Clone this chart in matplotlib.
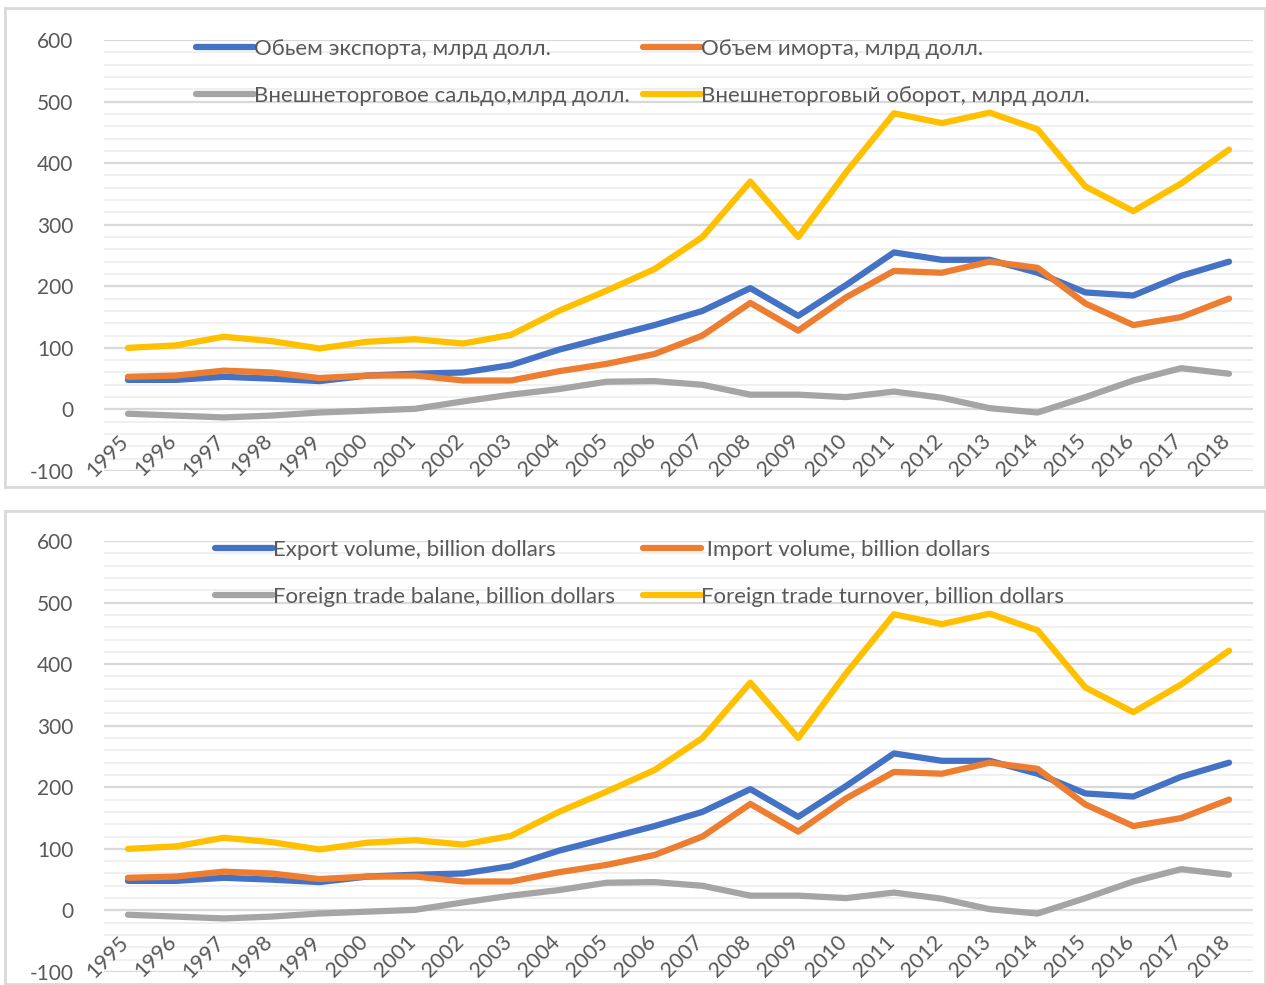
import matplotlib
matplotlib.use('Agg')
import matplotlib.pyplot as plt
from matplotlib.patches import Rectangle

years = list(range(1995, 2019))

export_vol = [48, 48, 53, 50, 46, 55, 58, 60, 72, 97, 117, 137, 160, 197, 152, 202, 255, 243, 243, 222, 190, 185, 217, 240]
import_vol = [53, 55, 63, 60, 51, 55, 55, 47, 47, 62, 74, 90, 120, 173, 128, 182, 225, 222, 240, 230, 172, 137, 150, 180]
balance = [-7, -10, -13, -10, -5, -2, 1, 13, 24, 33, 45, 46, 40, 24, 24, 20, 29, 19, 2, -5, 20, 47, 67, 58]
turnover = [100, 104, 118, 111, 99, 110, 114, 107, 121, 160, 193, 228, 280, 370, 280, 385, 481, 465, 482, 455, 362, 322, 367, 422]

labels_ru = ['Обьем экспорта, млрд долл.', 'Объем иморта, млрд долл.',
             'Внешнеторговое сальдо,млрд долл.', 'Внешнеторговый оборот, млрд долл.']
labels_en = ['Export volume, billion dollars', ' Import volume, billion dollars',
             'Foreign trade balane, billion dollars', 'Foreign trade turnover, billion dollars']

colors = ['#4472C4', '#ED7D31', '#A5A5A5', '#FFC000']
series = [export_vol, import_vol, balance, turnover]

plt.rcParams['font.family'] = ['Lato', 'DejaVu Sans']
plt.rcParams['axes.unicode_minus'] = False
grey_txt = '#595959'

W, H = 1266, 985
fig = plt.figure(figsize=(W / 100, H / 100), dpi=100)

# panel frames
for y0, y1 in [(8, 487), (511, 984)]:
    fig.patches.append(Rectangle((5 / W, 1 - y1 / H), (W - 6) / W, (y1 - y0) / H,
                                 transform=fig.transFigure, fill=False,
                                 edgecolor='#d9d9d9', lw=2))

AX_L, AX_R = 104, 1253


def draw(ax, labels, col_x):
    lines = []
    for vals, c, lab in zip(series, colors, labels):
        ln, = ax.plot(years, vals, color=c, lw=4.5, label=lab,
                      solid_capstyle='round', solid_joinstyle='round')
        lines.append(ln)
    ax.set_xlim(1994.5, 2018.5)
    ax.set_ylim(-100, 600)
    ax.set_yticks(range(-100, 601, 100))
    ax.set_yticks(range(-100, 601, 20), minor=True)
    ax.grid(True, which='major', axis='y', color='#d9d9d9', lw=1.6, zorder=0)
    ax.grid(True, which='minor', axis='y', color='#eeeeee', lw=1.2, zorder=0)
    ax.set_axisbelow(True)
    ax.set_xticks([])
    ax.tick_params(axis='y', which='both', length=0, pad=22, labelsize=15, labelcolor=grey_txt)
    for s in ax.spines.values():
        s.set_visible(False)
    for yr in years:
        ax.text(yr + 0.1, -35, str(yr), rotation=45, ha='right', va='top', fontsize=15.5,
                color=grey_txt)

    # two legend columns, row-wise order like Excel
    legs = []
    for k, x0 in enumerate(col_x):
        leg = ax.legend([lines[k], lines[k + 2]], [labels[k], labels[k + 2]],
                        loc='upper left', bbox_to_anchor=((x0 - AX_L) / (AX_R - AX_L), 1.002),
                        frameon=False, fontsize=16, labelcolor=grey_txt,
                        handlelength=2.6, handletextpad=0.0, borderaxespad=0,
                        borderpad=0, labelspacing=1.22)
        legs.append(leg)
    ax.add_artist(legs[0])


ax1 = fig.add_axes([AX_L / W, 1 - 471 / H, (AX_R - AX_L) / W, 431 / H])
draw(ax1, labels_ru, (196, 643))
ax2 = fig.add_axes([AX_L / W, 1 - 972 / H, (AX_R - AX_L) / W, 431 / H])
draw(ax2, labels_en, (215, 643))

fig.savefig('out.png', dpi=100)
